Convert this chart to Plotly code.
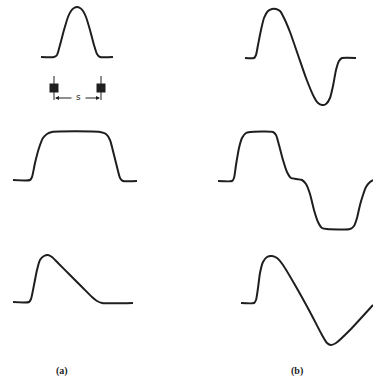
import plotly.graph_objects as go

# curves, in page pixel units (x right, y down)
pulse_x = [41, 54, 57, 60, 64, 68, 71, 74, 77, 80, 83, 86, 90, 94, 97, 100, 113]
pulse_y = [57, 57, 55, 45, 30, 17, 11, 8, 7, 8, 11, 17, 30, 45, 54, 57, 57]

dipulse_x = [245, 254, 256, 258, 261, 264, 268, 272, 276, 280, 284, 290, 298, 306,
             314, 318, 322, 326, 330, 333, 336, 339, 342, 356]
dipulse_y = [58, 58, 55, 45, 30, 18, 11, 9, 9, 11, 18, 32, 55, 78,
             97, 103, 105, 104, 98, 86, 70, 61, 58, 58]

flat_x = [13, 30, 32, 35, 39, 43, 47, 52, 100, 106, 110, 114, 118, 120, 123, 137]
flat_y = [180, 180, 177, 163, 148, 138, 134, 132, 132, 134, 140, 155, 171, 178, 181, 181]

flatdi_x = [218, 232, 234, 236, 239, 242, 246, 250, 273, 276, 279, 283, 287, 291, 296,
            302, 306, 310, 314, 318, 322, 327, 350, 354, 357, 360, 363, 366, 370, 373]
flatdi_y = [181, 181, 178, 165, 148, 138, 133, 132, 132, 135, 145, 160, 172, 178, 179,
            180, 184, 194, 210, 222, 228, 229, 229, 226, 218, 205, 195, 187, 182, 180]

skew_x = [13, 29, 31, 34, 37, 40, 44, 48, 52, 58, 70, 82, 92, 97, 102, 133]
skew_y = [302, 302, 299, 285, 270, 260, 256, 255, 257, 263, 275, 287, 297, 301, 303, 303]

skewdi_x = [241, 254, 256, 258, 260, 263, 267, 272, 277, 283, 295, 310, 322, 327, 331, 336, 350, 373]
skewdi_y = [303, 303, 300, 288, 273, 262, 257, 256, 258, 265, 285, 312, 335, 343, 345, 343, 330, 305]

head_x = [54, 101]
head_y = [88, 88]

labels = ["(a)", "(b)"]
label_x = [62, 297]
label_y = [371, 371]

ink = "#1e1e1e"

fig = go.Figure()
for xs, ys in [(pulse_x, pulse_y), (dipulse_x, dipulse_y), (flat_x, flat_y),
               (flatdi_x, flatdi_y), (skew_x, skew_y), (skewdi_x, skewdi_y)]:
    fig.add_trace(go.Scatter(x=xs, y=ys, mode="lines",
                             line=dict(color=ink, width=2, shape="spline", smoothing=0.6),
                             hoverinfo="skip"))

# head markers with their ticks
for hx in head_x:
    fig.add_trace(go.Scatter(x=[hx, hx], y=[76, 100], mode="lines",
                             line=dict(color=ink, width=1), hoverinfo="skip"))
fig.add_trace(go.Scatter(x=head_x, y=head_y, mode="markers",
                         marker=dict(symbol="square", size=9, color=ink), hoverinfo="skip"))

# spacing arrows and "s"
fig.add_annotation(x=head_x[0] + 1, y=98, ax=73, ay=98, xref="x", yref="y", axref="x", ayref="y",
                   showarrow=True, arrowhead=2, arrowsize=0.8, arrowwidth=1, arrowcolor=ink, text="")
fig.add_annotation(x=head_x[1] - 1, y=98, ax=84, ay=98, xref="x", yref="y", axref="x", ayref="y",
                   showarrow=True, arrowhead=2, arrowsize=0.8, arrowwidth=1, arrowcolor=ink, text="")
fig.add_annotation(x=78.5, y=97, text="s", showarrow=False,
                   font=dict(family="DejaVu Sans", size=9, color=ink))

for t, lx, ly in zip(labels, label_x, label_y):
    fig.add_annotation(x=lx, y=ly, text="<b>" + t + "</b>", showarrow=False,
                       font=dict(family="Liberation Serif", size=10, color=ink))

fig.update_xaxes(range=[0, 373], visible=False)
fig.update_yaxes(range=[383, 0], visible=False)
fig.update_layout(width=373, height=383, margin=dict(l=0, r=0, t=0, b=0),
                  showlegend=False, plot_bgcolor="white", paper_bgcolor="white")

# page body has a default margin; drop it so the drawing sits at the window corner
fig.write_html("out.html", config={"displayModeBar": False},
               post_script="document.body.style.margin='0';document.body.style.overflow='hidden';")
